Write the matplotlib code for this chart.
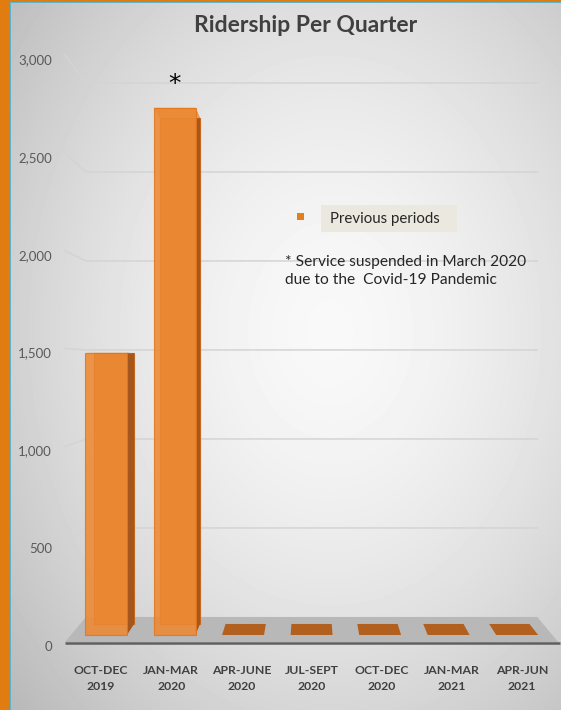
import numpy as np
import matplotlib
matplotlib.use("Agg")
import matplotlib.pyplot as plt
from matplotlib.patches import Polygon, Rectangle

# data
quarters = ["OCT-DEC\n2019", "JAN-MAR\n2020", "APR-JUNE\n2020", "JUL-SEPT\n2020",
            "OCT-DEC\n2020", "JAN-MAR\n2021", "APR-JUN\n2021"]
riders = [1480, 2765, 0, 0, 0, 0, 0]
yticks = [0, 500, 1000, 1500, 2000, 2500, 3000]
title = "Ridership Per Quarter"
legend_label = "Previous periods"
note = "* Service suspended in March 2020\ndue to the  Covid-19 Pandemic"

plt.rcParams['font.family'] = ['Lato', 'DejaVu Sans']

W, H = 561, 710
fig = plt.figure(figsize=(W / 100, H / 100), dpi=100)

# soft radial background
bg = fig.add_axes([0, 0, 1, 1], zorder=0)
yy, xx = np.mgrid[0:H, 0:W]
r = np.sqrt(((xx - 330) / 360.0) ** 2 + ((yy - 330) / 470.0) ** 2)
shade = 0.975 - 0.19 * np.clip(r, 0, 1.4) ** 1.6
bg.imshow(shade, cmap='gray', vmin=0, vmax=1, extent=[0, W, H, 0], aspect='auto')
bg.axis('off')

ax = fig.add_axes([0, 0, 1, 1], zorder=1)
ax.patch.set_visible(False)
ax.set_xlim(-1.439, 6.553)
ax.set_ylim(-347.6, 3282)
ax.axis('off')

# simple perspective: depth d goes from floor front (0) to back wall (1)
XV = 3.0
def proj(x, v, d):
    return XV + (x - XV) * (1 - 0.085 * d), v * (1 - 0.09 * d) + 128 * d

x_lo, x_hi = -0.513, 6.513

# gridlines on side and back wall
for v in yticks[1:]:
    p = [proj(x_lo, v, 0), proj(x_lo, v, 1), proj(x_hi, v, 1)]
    ax.plot([q[0] for q in p], [q[1] for q in p], color='#d4d4d4', lw=1.1, zorder=2)

# floor
floor = [proj(x_lo, 0, 0), proj(x_hi, 0, 0), proj(x_hi, 0, 1), proj(x_lo, 0, 1)]
ax.add_patch(Polygon(floor, closed=True, fc='#b8b8b8', ec='none', zorder=3))
f0, f1 = proj(x_lo, 0, 0), proj(x_hi, 0, 0)
ax.plot([f0[0], f1[0] + 0.03], [f0[1] - 4, f1[1] - 4], color='#5f5f5f', lw=1.8,
        solid_capstyle='butt', zorder=3)

# bars
d0, d1, w = 0.28, 0.72, 0.306
for i, v in enumerate(riders):
    if v > 0:
        back = [proj(i - w, 0, d1), proj(i + w, 0, d1), proj(i + w, v, d1), proj(i - w, v, d1)]
        side_x = i + w if i < XV else i - w
        side = [proj(side_x, 0, d0), proj(side_x, 0, d1), proj(side_x, v, d1), proj(side_x, v, d0)]
        top = [proj(i - w, v, d0), proj(i + w, v, d0), proj(i + w, v, d1), proj(i - w, v, d1)]
        front = [proj(i - w, 0, d0), proj(i + w, 0, d0), proj(i + w, v, d0), proj(i - w, v, d0)]
        ax.add_patch(Polygon(back, closed=True, fc='#de7a26', ec='#c9681a', lw=0.8, zorder=4))
        ax.add_patch(Polygon(side, closed=True, fc='#a4561c', ec='none', zorder=5))
        ax.add_patch(Polygon(top, closed=True, fc='#f29d52', ec='none', zorder=5))
        ax.add_patch(Polygon(front, closed=True, fc='#ec8934', ec='#e4761c', lw=0.8,
                             alpha=0.88, zorder=6))
    else:
        top = [proj(i - w, 0, d0), proj(i + w, 0, d0), proj(i + w, 0, d1), proj(i - w, 0, d1)]
        ax.add_patch(Polygon(top, closed=True, fc='#b2601f', ec='none', zorder=5))

# asterisk over the suspended quarter
ax_pt = proj(1, riders[1], d0)
ax.annotate("*", xy=ax_pt, xytext=(0, 17), textcoords='offset points',
            ha='center', va='center', fontsize=18, color='black',
            family='DejaVu Sans', zorder=7)

# value axis labels
for v in yticks:
    ax.text(-0.698, v - 25.6, f"{v:,}", ha='right', va='center',
            fontsize=9.5, color='#595959')

# category labels
for i, lab in enumerate(quarters):
    ax.text(i, -186.6, lab, ha='center', va='center', fontsize=8.8,
            fontweight='bold', color='#404040', linespacing=1.5)

fig.text(306 / W, 1 - 26 / H, title, ha='center', va='center', fontsize=16.5,
         fontweight='bold', color='#404040')

# legend and note
fig.add_artist(Rectangle((297 / W, 1 - 220 / H), 7 / W, 7 / H,
                         transform=fig.transFigure, fc='#e27f1e', ec='none', zorder=3))
fig.add_artist(Rectangle((321 / W, 1 - 232 / H), 136 / W, 27 / H,
                         transform=fig.transFigure, fc='#ebe9df', ec='none', zorder=3))
fig.text(330 / W, 1 - 219 / H, legend_label, ha='left', va='center',
         fontsize=10.8, color='#262626', zorder=4)
fig.text(285 / W, 1 - 271 / H, note, ha='left', va='center', fontsize=11.2,
         color='#262626', linespacing=1.4, zorder=4)

# orange frame with thin blue rule
fig.add_artist(Rectangle((0, 0), 10 / W, 1, transform=fig.transFigure,
                         fc='#e07c10', ec='none', zorder=5))
fig.add_artist(Rectangle((0, 1 - 1.5 / H), 1, 1.5 / H, transform=fig.transFigure,
                         fc='#e07c10', ec='none', zorder=5))
fig.add_artist(Rectangle((10 / W, 0), 1.2 / W, 1 - 1.5 / H, transform=fig.transFigure,
                         fc='#5bb3d0', ec='none', zorder=5))
fig.add_artist(Rectangle((10 / W, 1 - 2.7 / H), 1 - 10 / W, 1.2 / H, transform=fig.transFigure,
                         fc='#5bb3d0', ec='none', zorder=5))

fig.savefig("out.png", dpi=100)
